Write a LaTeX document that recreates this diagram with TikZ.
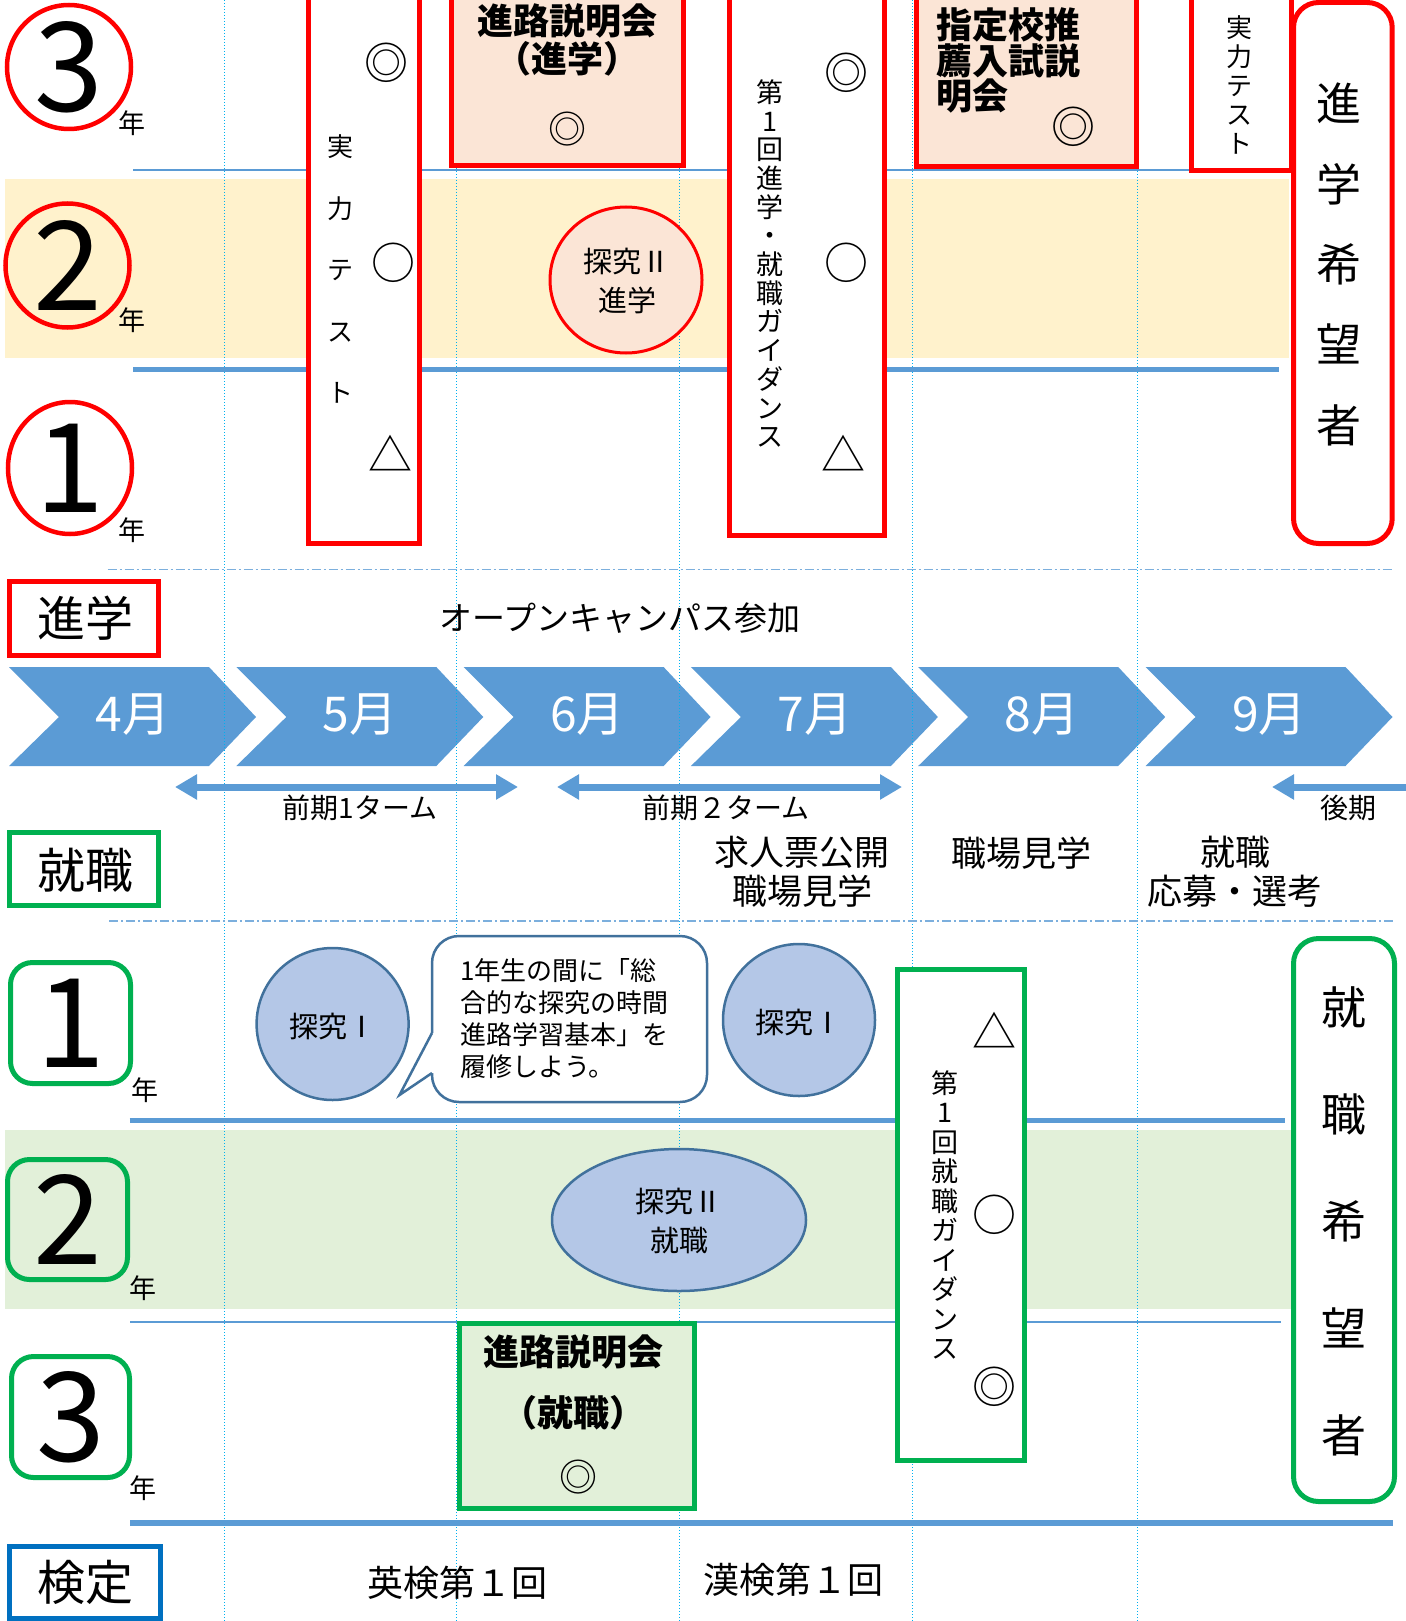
\documentclass[tikz,border=0pt]{standalone}
\usepackage{fontspec}
\setmainfont{Noto Sans CJK JP}
\usetikzlibrary{arrows.meta}
\definecolor{kred}{HTML}{FF0000}
\definecolor{kgreen}{HTML}{00B050}
\definecolor{kblue}{HTML}{5B9BD5}
\definecolor{kdark}{HTML}{41719C}
\definecolor{kcyan}{HTML}{00B0F0}
\definecolor{kpink}{HTML}{FBE5D6}
\definecolor{kyellow}{HTML}{FFF2CC}
\definecolor{kmint}{HTML}{E2F0D9}
\definecolor{klav}{HTML}{B4C7E7}
\definecolor{kkentei}{HTML}{0070C0}
\newcommand{\kfs}[2]{\fontsize{#1}{#2}\selectfont}

\begin{document}
\begin{tikzpicture}[x=1pt,y=-1pt,
  every node/.style={inner sep=0pt},
  redbox/.style={draw=kred,line width=5pt,fill=white},
  greenbox/.style={draw=kgreen,line width=5pt,fill=white},
  symb/.style={font=\kfs{44}{44}},
  tate/.style={align=center},
  guide/.style={kcyan,line width=1pt,dash pattern=on 1pt off 2pt},
  divider/.style={kblue!80,line width=1.5pt,dash pattern=on 9pt off 3pt on 2pt off 3pt},
  term/.style={kblue,line width=7pt,>={Triangle[width=24pt,length=22pt]}},
  kotai/.style={kdark,fill=klav,line width=2.5pt}]
\useasboundingbox (0,0) rectangle (1405,1621);
\fill[kyellow] (4.5,178.6) rectangle (1289,358);
\fill[kmint] (4.5,1130) rectangle (1298,1309);
\foreach \m [count=\i from 0] in {4,...,9}
  \fill[kblue] ({9+227.3*\i},667) -- ++(200,0) -- ++(47,50) -- ++(-47,49)
    -- ++(-200,0) -- ++(50,-49) -- cycle;
\foreach \x in {224.5,456.7,679.5,912.7,1137}
  \draw[guide] (\x,0) -- (\x,1621);
\foreach \m [count=\i from 0] in {4,...,9}
  \node[font=\kfs{48}{48},text=white] (m\m) at ({133+227.3*\i},715) {\m 月};
\draw[kblue,line width=2pt] (133,170) -- (1200,170);
\draw[kblue,line width=5pt] (133,369.6) -- (1279,369.6);
\draw[divider] (107.5,569.5) -- (1393,569.5);
\draw[divider] (109,921) -- (1393,921);
\draw[kblue,line width=5pt] (129.5,1120) -- (1284.5,1120);
\draw[kblue,line width=2pt] (130,1321.7) -- (1281,1321.7);
\draw[kblue,line width=6pt] (130,1523) -- (1393,1523);

\draw[kred,line width=4.5pt] (69,67) circle (62pt);
\node[font=\kfs{124}{124}] (n3) at (69,67) {3};
\node[font=\kfs{27}{27}] (g3) at (132,123) {年};
\draw[kred,line width=4.5pt] (67.5,265.5) circle (62pt);
\node[font=\kfs{124}{124}] (n2) at (67.5,265.5) {2};
\node[font=\kfs{27}{27}] (g2) at (132,320) {年};
\draw[kred,line width=4.5pt] (70,468) ellipse [x radius=62pt,y radius=66pt];
\node[font=\kfs{124}{124}] (n1) at (70,468) {1};
\node[font=\kfs{27}{27}] (g1) at (132,530) {年};

\draw[redbox] (308.5,-10) rectangle (419,543.5);
\node[tate,font=\kfs{26}{61.5}] (jitsu1) at (340,269) {実\\力\\テ\\ス\\ト};
\node[symb] (s1a) at (386,62.5) {◎};
\node[symb] (s1b) at (393,262.5) {○};
\node[symb] (s1c) at (390.6,453.6) {△};
\draw[redbox,fill=kpink] (451.2,-10) rectangle (683.5,165.5);
\node[tate,font=\kfs{36}{38}\bfseries] (setsu1) at (567,40) {進路説明会\\（進学）};
\node[font=\kfs{38}{38}] (s2) at (567,129) {◎};
\draw[kred,line width=3pt,fill=kpink] (626,280) ellipse [x radius=76pt,y radius=73pt];
\node[tate,font=\kfs{29}{39}] (tan2a) at (627,281) {探究Ⅱ\\進学};
\draw[redbox] (729.5,-10) rectangle (884,535);
\node[tate,font=\kfs{27}{28.7}] (guide1) at (769.7,263.5) {第\\1\\回\\進\\学\\・\\就\\職\\ガ\\イ\\ダ\\ン\\ス};
\node[symb] (s3a) at (846,73) {◎};
\node[symb] (s3b) at (846,262.5) {○};
\node[symb] (s3c) at (843,453.6) {△};
\draw[redbox,fill=kpink] (916.1,-10) rectangle (1136,167);
\node[align=left,anchor=west,font=\kfs{36}{35.7}\bfseries] (shitei) at (936,60.7) {指定校推\\薦入試説\\明会};
\node[symb] (s4) at (1073,127) {◎};
\draw[redbox] (1191.5,-10) rectangle (1291,170.5);
\node[tate,font=\kfs{26}{29}] (jitsu2) at (1239.6,85) {実\\力\\テ\\ス\\ト};
\draw[redbox,rounded corners=25pt] (1293.5,2.5) rectangle (1392.2,543.5);
\node[tate,font=\kfs{45}{80.4}] (kibo1) at (1338.5,264.5) {進\\学\\希\\望\\者};

\draw[kred,line width=5pt] (9.5,581.5) rectangle (158.5,655.5);
\node[font=\kfs{48}{48}] (shin) at (85,618) {進学};
\node[font=\kfs{33}{33}] (oc) at (620,618) {オープンキャンパス参加};
\coordinate (t1s) at (175,787);
\coordinate (t1e) at (518,787);
\coordinate (t2s) at (557,787);
\coordinate (t2e) at (902,787);
\coordinate (t3s) at (1272,787);
\coordinate (t3e) at (1410,787);
\draw[term,<->] (t1s) -- (t1e);
\draw[term,<->] (t2s) -- (t2e);
\draw[term,<-] (t3s) -- (t3e);
\node[font=\kfs{28}{28}] (term1) at (360,808) {前期1ターム};
\node[font=\kfs{28}{28}] (term2) at (726,808) {前期２ターム};
\node[font=\kfs{28}{28}] (term3) at (1348,808) {後期};
\draw[kgreen,line width=5pt] (9.5,832.5) rectangle (158.5,905.5);
\node[font=\kfs{48}{48}] (shu) at (85,870) {就職};
\node[tate,font=\kfs{35}{39}] (kyujin) at (802,872) {求人票公開\\職場見学};
\node[font=\kfs{35}{35}] (kengaku) at (1021,853) {職場見学};
\node[tate,font=\kfs{35}{39}] (oubo) at (1235,872) {就職\\応募・選考};

\draw[kgreen,line width=5pt,rounded corners=22pt] (10.5,962.5) rectangle (130.5,1083.5);
\node[font=\kfs{124}{124}] (m1) at (70.5,1023) {1};
\node[font=\kfs{27}{27}] (h1) at (145,1090) {年};
\draw[kgreen,line width=5pt,rounded corners=22pt] (7.5,1159.5) rectangle (127.5,1279.5);
\node[font=\kfs{124}{124}] (m2) at (67.5,1219.5) {2};
\node[font=\kfs{27}{27}] (h2) at (143,1288) {年};
\draw[kgreen,line width=5pt,rounded corners=22pt] (11.5,1356.5) rectangle (129.5,1477.5);
\node[font=\kfs{124}{124}] (m3) at (70.5,1417) {3};
\node[font=\kfs{27}{27}] (h3) at (143,1488) {年};

\draw[kotai] (332.6,1024) circle (76pt);
\node[font=\kfs{29}{29}] (tan1a) at (332.6,1026) {探究Ⅰ};
\draw[kotai] (799,1020) circle (76pt);
\node[font=\kfs{29}{29}] (tan1b) at (799,1022) {探究Ⅰ};
\draw[kdark,line width=2.5pt,fill=white,rounded corners=27pt] (432,936) rectangle (707,1102);
\fill[white] (434,1033) -- (429,1033) -- (399.5,1095) -- (429,1073) -- (434,1073) -- cycle;
\draw[kdark,line width=2.5pt] (432,1033) -- (399.5,1095) -- (432,1073);
\node[align=left,anchor=west,font=\kfs{26}{32}] (bub) at (460,1018.4)
  {1年生の間に「総\\合的な探究の時間\\進路学習基本」を\\履修しよう。};
\draw[kotai] (679,1220) ellipse [x radius=127pt,y radius=71pt];
\node[tate,font=\kfs{29}{39}] (tan2b) at (679,1221) {探究Ⅱ\\就職};

\draw[greenbox] (897,969) rectangle (1024.5,1460);
\node[tate,font=\kfs{27}{29.5}] (guide2) at (945,1215) {第\\1\\回\\就\\職\\ガ\\イ\\ダ\\ン\\ス};
\node[symb] (s5a) at (994.5,1030) {△};
\node[symb] (s5b) at (994.5,1215) {○};
\node[symb] (s5c) at (994.6,1386.7) {◎};
\draw[greenbox,rounded corners=25pt] (1293.5,938.5) rectangle (1394.5,1501.5);
\node[tate,font=\kfs{45}{107}] (kibo2) at (1344,1221.6) {就\\職\\希\\望\\者};
\draw[greenbox,fill=kmint] (459.5,1323) rectangle (694.5,1508.5);
\node[tate,font=\kfs{36}{61}\bfseries] (setsu2) at (573.5,1382.5) {進路説明会\\（就職）};
\node[font=\kfs{38}{38}] (s6) at (578,1477) {◎};

\draw[kkentei,line width=5pt] (9.5,1546.5) rectangle (160.5,1618);
\node[font=\kfs{48}{48}] (kentei) at (85,1582) {検定};
\node[font=\kfs{36}{36}] (eiken) at (457,1583) {英検第１回};
\node[font=\kfs{36}{36}] (kanken) at (793,1580) {漢検第１回};
\end{tikzpicture}
\end{document}
